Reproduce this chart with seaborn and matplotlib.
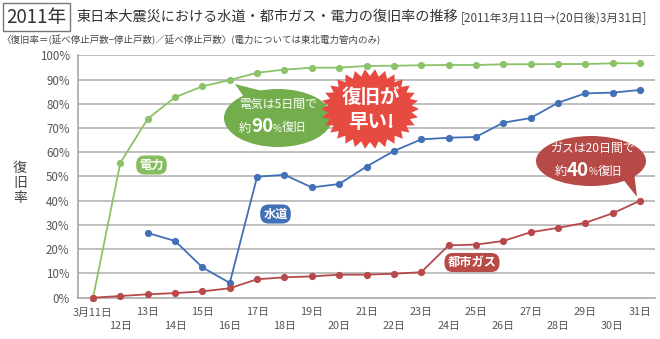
import numpy as np
import pandas as pd
import matplotlib
matplotlib.use("Agg")
import matplotlib.pyplot as plt
import seaborn as sns
from matplotlib.patches import Ellipse, Polygon
from matplotlib.transforms import Affine2D

# ---------------- data ----------------
days = list(range(0, 21))
day_labels = ["3月11日"] + [f"{d}日" for d in range(12, 32)]
electricity = [0, 55.7, 73.8, 82.7, 87.2, 89.8, 92.8, 94.1, 94.9, 94.9, 95.6,
               95.7, 95.9, 96.0, 96.0, 96.3, 96.3, 96.4, 96.4, 96.7, 96.7]
water_days = list(range(2, 21))
water = [26.7, 23.4, 12.5, 6.1, 49.9, 50.7, 45.5, 46.9, 54.1,
         60.5, 65.3, 66.0, 66.3, 72.2, 74.1, 80.4, 84.3, 84.6, 85.7]
gas = [0, 0.7, 1.4, 1.9, 2.6, 3.9, 7.6, 8.4, 8.8, 9.5, 9.5,
       9.9, 10.5, 21.6, 21.9, 23.4, 27.0, 28.8, 30.9, 34.8, 40.0]
yticks = list(range(0, 101, 10))

GREEN = "#8cc268"
BLUE = "#4270b6"
RED = "#b8494a"

sns.set_theme(style="white")
plt.rcParams['font.family'] = ['Noto Sans CJK JP', 'DejaVu Sans']

W, H = 660, 339
fig = plt.figure(figsize=(W / 100, H / 100), dpi=100)
ax = fig.add_axes([78 / W, (H - 297.7) / H, 577 / W, 242.4 / H])

df_e = pd.DataFrame({"day": days, "rate": electricity})
df_w = pd.DataFrame({"day": water_days, "rate": water})
df_g = pd.DataFrame({"day": days, "rate": gas})

for df, c in [(df_e, GREEN), (df_w, BLUE), (df_g, RED)]:
    sns.lineplot(data=df, x="day", y="rate", ax=ax, color=c, lw=1.3,
                 marker="o", markersize=5.2, markeredgewidth=0, zorder=3,
                 clip_on=False)
ax.set_xlim(-0.55, 20.55)
ax.set_ylim(0, 100)
ax.set_yticks(yticks)
ax.set_yticklabels([f"{v}%" for v in yticks], fontsize=8.3, color="#555555")
# upper row (odd dates) as major ticks, lower row (even dates) as minor ticks
ax.set_xticks(days[0::2])
ax.set_xticklabels(day_labels[0::2], fontsize=7.8, color="#555555")
ax.set_xticks(days[1::2], minor=True)
ax.set_xticklabels(day_labels[1::2], minor=True, fontsize=7.8, color="#555555")
ax.tick_params(axis="x", which="major", length=0, pad=7)
ax.tick_params(axis="x", which="minor", length=0, pad=16.5)
ax.tick_params(axis="y", length=0, pad=6)
ax.set_xlabel("")
ax.set_ylabel("")
for y in yticks[1:]:
    ax.axhline(y, color="#b4b4b4", lw=1.2, zorder=1)
for s in ["top", "right"]:
    ax.spines[s].set_visible(False)
for s in ["left", "bottom"]:
    ax.spines[s].set_color("#a8a8a8")
    ax.spines[s].set_linewidth(1.2)

# pixel-space transform (origin top-left)
px = Affine2D().scale(1 / W, -1 / H).translate(0, 1) + fig.transFigure

# titles
fig.text(36.5, 17, "2011年", transform=px, fontsize=13.5, color="#333333", ha="center", va="center",
         bbox=dict(boxstyle="square,pad=0.18", fc="white", ec="#777777", lw=1))
fig.text(76, 17, "東日本大震災における水道・都市ガス・電力の復旧率の推移", transform=px,
         fontsize=10.2, color="#333333", ha="left", va="center")
fig.text(461, 18, "[2011年3月11日→(20日後)3月31日]", transform=px,
         fontsize=8.4, color="#444444", ha="left", va="center")
fig.text(1, 40, "〈復旧率＝(延べ停止戸数−停止戸数)／延べ停止戸数〉(電力については東北電力管内のみ)",
         transform=px, fontsize=6.8, color="#444444", ha="left", va="center")
fig.text(20, 183, "復\n旧\n率", transform=px, fontsize=10, color="#444444",
         ha="center", va="center", linespacing=1.05)

# series labels
for (cx, cy, txt, col) in [(151.5, 165, "電力", "#86bd5e"), (275.5, 214, "水道", BLUE),
                           (472, 262.5, "都市ガス", "#b94b47")]:
    fig.text(cx, cy, txt, transform=px, fontsize=8.8, fontweight="bold", color="white",
             ha="center", va="center",
             bbox=dict(boxstyle="round,pad=0.25,rounding_size=0.7", fc=col, ec="none"))

# green bubble
gb = "#74ad4c"
fig.patches.append(Polygon([(244, 97), (262, 91), (235, 84)], closed=True, fc=gb, ec="none",
                           transform=px, figure=fig))
fig.patches.append(Ellipse((278, 118), 108, 58, fc=gb, ec="none", transform=px, figure=fig))
fig.text(278, 104, "電気は5日間で", transform=px, fontsize=8.6, color="white",
         ha="center", va="center")
fig.text(239, 128, "約", transform=px, fontsize=8.8, color="white", ha="left", va="center")
fig.text(251, 127, "90", transform=px, fontsize=13.5, fontweight="bold", color="white",
         ha="left", va="center")
fig.text(273, 129, "%", transform=px, fontsize=7, color="white", ha="left", va="center")
fig.text(282, 128, "復旧", transform=px, fontsize=8.8, color="white", ha="left", va="center")

# starburst
n = 30
ang = np.linspace(0, 2 * np.pi, 2 * n, endpoint=False)
rx = np.where(np.arange(2 * n) % 2 == 0, 49, 42)
ry = np.where(np.arange(2 * n) % 2 == 0, 40, 33)
pts = np.column_stack([370 + rx * np.cos(ang), 109 + ry * np.sin(ang)])
fig.patches.append(Polygon(pts, closed=True, fc="#e64a40", ec="none", transform=px, figure=fig))
fig.text(371, 97, "復旧が", transform=px, fontsize=14, fontweight="bold", color="white",
         ha="center", va="center")
fig.text(371, 122, "早い!", transform=px, fontsize=14, fontweight="bold", color="white",
         ha="center", va="center")

# red bubble
rb = "#b64a46"
fig.patches.append(Polygon([(622, 178), (634, 172), (637, 197)], closed=True, fc=rb, ec="none",
                           transform=px, figure=fig))
fig.patches.append(Ellipse((591, 161), 110, 50, fc=rb, ec="none", transform=px, figure=fig))
fig.text(593, 148, "ガスは20日間で", transform=px, fontsize=8.6, color="white",
         ha="center", va="center")
fig.text(555, 171, "約", transform=px, fontsize=8.8, color="white", ha="left", va="center")
fig.text(567, 170, "40", transform=px, fontsize=13.5, fontweight="bold", color="white",
         ha="left", va="center")
fig.text(589, 172, "%", transform=px, fontsize=7, color="white", ha="left", va="center")
fig.text(598, 171, "復旧", transform=px, fontsize=8.8, color="white", ha="left", va="center")

fig.savefig("out.png", dpi=100, facecolor="white")
